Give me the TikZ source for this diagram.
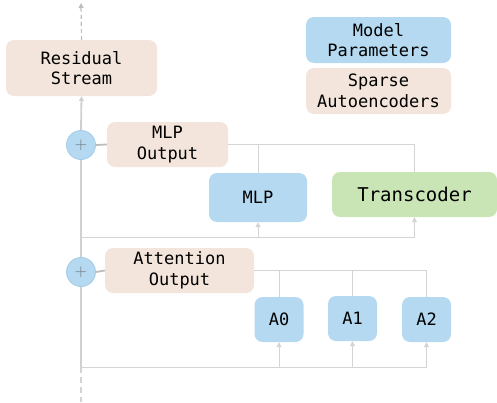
\documentclass[tikz,border=0pt]{standalone}
\usepackage{fontspec}
\setmonofont{DejaVu Sans Mono}
\usetikzlibrary{arrows.meta}
\definecolor{pblue}{HTML}{B4D9F0}
\definecolor{pbluedk}{HTML}{A4CBE8}
\definecolor{pbeige}{HTML}{F3E5DB}
\definecolor{pgreen}{HTML}{C9E5B6}
\definecolor{lgray}{HTML}{D4D4D4}
\definecolor{mgray}{HTML}{D0D0D0}
\definecolor{cgray}{HTML}{BDBDBD}
\definecolor{pgray}{HTML}{6E6E6E}
\begin{document}
\begin{tikzpicture}[x=1pt,y=-1pt,
  box/.style={rounded corners=8pt, inner sep=0pt, align=center,
    font=\ttfamily\fontsize{17}{20.5}\selectfont, text=black},
  beige/.style={box, fill=pbeige},
  blue/.style={box, fill=pblue},
  green/.style={box, fill=pgreen},
  plus/.style={circle, fill=pblue, draw=pbluedk, line width=0.8pt, minimum size=29pt, inner sep=0pt,
    font=\fontsize{17}{17}\selectfont, text=pgray},
  wire/.style={draw=lgray, line width=1pt},
  main/.style={draw=mgray, line width=1.8pt},
  tip/.style={-{Triangle[width=5pt,length=5pt]}},
]
\useasboundingbox (0,0) rectangle (497,402);

% legend
\node[blue, minimum width=145pt, minimum height=46pt] (leg1) at (378.5,40) {Model\\Parameters};
\node[beige, minimum width=145pt, minimum height=46pt] (leg2) at (378.5,91) {Sparse\\Autoencoders};

% residual stream
\node[beige, minimum width=151pt, minimum height=56pt] (res) at (81.5,68) {Residual\\Stream};
\coordinate (top) at (81,3);
\coordinate (bot) at (81,402);

% MLP layer
\node[plus] (p1) at (81,145) {+};
\node[beige, minimum width=121pt, minimum height=45pt] (mlpout) at (167.5,144.5) {MLP\\Output};
\node[blue, minimum width=98pt, minimum height=49pt] (mlp) at (258,197.5) {MLP};
\node[green, minimum width=165pt, minimum height=45pt, font=\ttfamily\fontsize{19}{22}\selectfont] (tc) at (414.5,194.5) {Transcoder};
\coordinate (b1) at (81,237);

% Attention layer
\node[plus] (p2) at (81,272) {+};
\node[beige, minimum width=149pt, minimum height=45pt] (attout) at (179.5,270.5) {Attention\\Output};
\node[blue, minimum width=49pt, minimum height=45pt] (a0) at (279,319.5) {A0};
\node[blue, minimum width=49pt, minimum height=45pt] (a1) at (352.5,318.5) {A1};
\node[blue, minimum width=49pt, minimum height=45pt] (a2) at (426.5,319.5) {A2};
\coordinate (b2) at (81,367);

% main stream
\draw[main, dash pattern=on 4pt off 3pt, tip, draw=cgray, line width=1.2pt] (res.north) -- (top);
\draw[main, tip] (p1.north) -- (res.south);
\draw[main] (p2.north) -- (p1.south);
\draw[main] (b2) -- (p2.south);
\draw[main, draw=lgray, line width=1.2pt, dash pattern=on 6pt off 4pt] (b2) -- (bot);

% MLP wiring
\draw[wire, line width=1.8pt, draw=cgray] (p1.east) -- (mlpout.west);
\draw[wire] (mlpout.east) -| (tc.north);
\draw[wire] (mlp.north |- mlpout.east) -- (mlp.north);
\draw[wire] (b1) -- (tc.south |- b1);
\draw[wire, tip] (mlp.south |- b1) -- (mlp.south);
\draw[wire, tip] (tc.south |- b1) -- (tc.south);

% Attention wiring
\draw[wire, line width=1.8pt, draw=cgray] (p2.east) -- (attout.west);
\draw[wire] (attout.east) -| (a2.north);
\draw[wire] (a0.north |- attout.east) -- (a0.north);
\draw[wire] (a1.north |- attout.east) -- (a1.north);
\draw[wire] (b2) -- (a2.south |- b2);
\draw[wire, tip] (a0.south |- b2) -- (a0.south);
\draw[wire, tip] (a1.south |- b2) -- (a1.south);
\draw[wire, tip] (a2.south |- b2) -- (a2.south);
\end{tikzpicture}
\end{document}
